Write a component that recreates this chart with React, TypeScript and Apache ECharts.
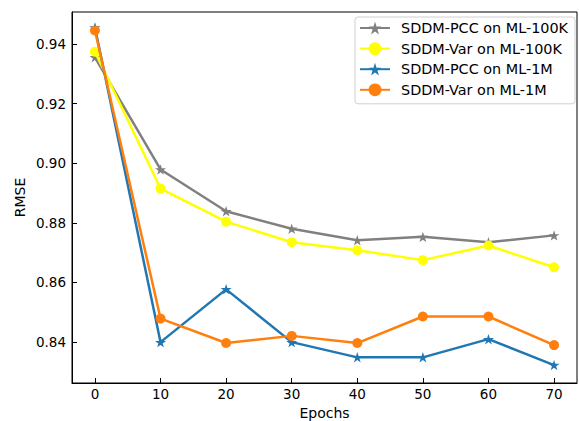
import React, { useEffect, useRef } from "react";
import * as echarts from "echarts";

const epochs = [0, 10, 20, 30, 40, 50, 60, 70];
const pcc100k = [0.9355, 0.8979, 0.8839, 0.878, 0.8742, 0.8753, 0.8735, 0.8758];
const var100k = [0.9374, 0.8915, 0.8804, 0.8735, 0.8708, 0.8675, 0.8724, 0.8651];
const pcc1m = [0.9455, 0.840, 0.8577, 0.840, 0.8349, 0.8349, 0.841, 0.8323];
const var1m = [0.9445, 0.8479, 0.8397, 0.8421, 0.8397, 0.8486, 0.8486, 0.839];
const yTicks = [0.84, 0.86, 0.88, 0.9, 0.92, 0.94];
const names = ["SDDM-PCC on ML-100K", "SDDM-Var on ML-100K", "SDDM-PCC on ML-1M", "SDDM-Var on ML-1M"];
const colors = ["#808080", "#ffff00", "#1f77b4", "#ff7f0e"];
const values = [pcc100k, var100k, pcc1m, var1m];

const STAR =
  "path://M0,-100L22.45,-30.9L95.1,-30.9L36.3,11.8L58.8,80.9L0,38.2L-58.8,80.9L-36.3,11.8L-95.1,-30.9L-22.45,-30.9Z";
const symbols = [STAR, "circle", STAR, "circle"];

const FONT = "DejaVu Sans";

export default function App() {
  const ref = useRef<HTMLDivElement>(null);
  useEffect(() => {
    const chart = echarts.init(ref.current!, null, { renderer: "svg" });
    chart.setOption({
      animation: false,
      textStyle: { fontFamily: FONT },
      grid: {
        left: 72, right: 2, top: 12, bottom: 38,
        outerBoundsMode: "none",
        containLabel: false,
        show: true, borderColor: "#000", borderWidth: 1, backgroundColor: "transparent",
      },
      legend: {
        orient: "vertical",
        left: 355, top: 17,
        padding: [3, 7, 6, 4],
        itemGap: 4.6,
        itemWidth: 30, itemHeight: 16,
        borderColor: "#d0d0d0", borderWidth: 1, borderRadius: 3,
        backgroundColor: "#fff",
        textStyle: { fontFamily: FONT, fontSize: 14.4, lineHeight: 16, color: "#000", padding: [0, 0, 0, 6] },
        data: names,
      },
      xAxis: {
        type: "value",
        min: -3.5, max: 73.5,
        name: "Epochs", nameLocation: "middle", nameGap: 23,
        nameMoveOverlap: false,
        nameTextStyle: { fontFamily: FONT, fontSize: 14, color: "#000", lineHeight: 14 },
        axisLine: { show: true, onZero: false, lineStyle: { color: "#000" } },
        axisTick: { show: true, inside: true, length: 5, lineStyle: { color: "#000" }, customValues: epochs },
        axisLabel: { customValues: epochs, fontFamily: FONT, fontSize: 13.5, color: "#000", margin: 4 },
        splitLine: { show: false },
      },
      yAxis: {
        type: "value",
        min: 0.8263, max: 0.9507,
        name: "RMSE", nameLocation: "middle", nameGap: 45,
        nameMoveOverlap: false,
        nameTextStyle: { fontFamily: FONT, fontSize: 14, color: "#000" },
        axisLine: { show: true, onZero: false, lineStyle: { color: "#000" } },
        axisTick: { show: true, inside: true, length: 5, lineStyle: { color: "#000" }, customValues: yTicks },
        axisLabel: {
          customValues: yTicks, fontFamily: FONT, fontSize: 13.5, color: "#000", margin: 6,
          formatter: (v: number) => v.toFixed(2),
        },
        splitLine: { show: false },
      },
      series: names.map((n, i) => ({
        name: n,
        type: "line",
        data: epochs.map((e, j) => [e, values[i][j]]),
        symbol: symbols[i],
        symbolSize: symbols[i] === STAR ? 11 : 10,
        symbolKeepAspect: true,
        showAllSymbol: true,
        itemStyle: { color: colors[i] },
        lineStyle: { color: colors[i], width: 2.5 },
        z: 2 + i,
      })),
    });
    return () => chart.dispose();
  }, []);
  return <div ref={ref} style={{ width: 579, height: 421, position: "absolute", left: 0, top: 0 }} />;
}
